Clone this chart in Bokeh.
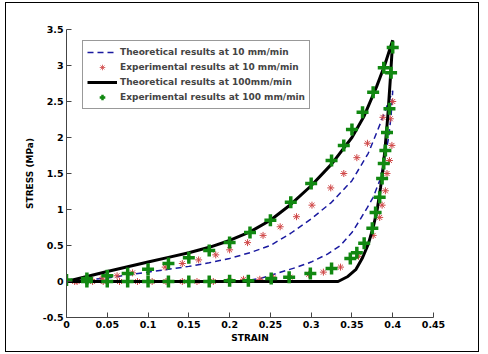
from bokeh.plotting import figure
from bokeh.models import FixedTicker, Legend, LegendItem, InlineStyleSheet
from bokeh.embed import file_html
from bokeh.resources import INLINE

# Theoretical results at 10 mm/min (loading then unloading)
theo10_x = [0, 0.025, 0.05, 0.075, 0.1, 0.125, 0.15, 0.175, 0.2, 0.225, 0.25, 0.275, 0.3, 0.325, 0.35,
            0.37, 0.385, 0.4,
            0.398, 0.395, 0.39, 0.384, 0.376, 0.369, 0.36, 0.35, 0.336, 0.32, 0.3, 0.28, 0.26, 0.24,
            0.22, 0.2, 0.1, 0]
theo10_y = [0, 0.02, 0.05, 0.09, 0.13, 0.17, 0.21, 0.26, 0.32, 0.4, 0.5, 0.67, 0.87, 1.1, 1.4,
            1.78, 2.2, 2.65,
            2.3, 2.0, 1.7, 1.4, 1.17, 1.03, 0.86, 0.68, 0.5, 0.38, 0.27, 0.19, 0.12, 0.05,
            0.01, 0, 0, 0]

# Experimental results at 10 mm/min
exp10_x = [0.01, 0.03, 0.044, 0.062, 0.081, 0.121, 0.142, 0.162, 0.183, 0.2, 0.222, 0.241, 0.262, 0.282,
           0.301, 0.324, 0.34, 0.356, 0.369, 0.388, 0.4,
           0.397, 0.399, 0.396, 0.393, 0.391, 0.387, 0.384, 0.376, 0.358, 0.336, 0.315, 0.297, 0.274, 0.254,
           0.237, 0.217, 0.2, 0.18, 0.16, 0.142, 0.122, 0.105, 0.087, 0.065, 0.045, 0.032, 0.013]
exp10_y = [0.0, 0.03, 0.05, 0.08, 0.12, 0.2, 0.25, 0.3, 0.37, 0.44, 0.54, 0.64, 0.76, 0.9,
           1.06, 1.3, 1.5, 1.72, 1.92, 2.28, 2.5,
           2.26, 1.89, 1.68, 1.5, 1.26, 1.06, 0.89, 0.64, 0.35, 0.2, 0.13, 0.1, 0.06, 0.05,
           0.03, 0.03, 0.01, 0, 0, 0, 0, 0, 0, 0, 0, 0, 0]

# Theoretical results at 100 mm/min
theo100_x = [0, 0.025, 0.05, 0.075, 0.1, 0.125, 0.15, 0.175, 0.2, 0.225, 0.25, 0.275, 0.3, 0.325, 0.35,
             0.365, 0.38, 0.39, 0.4,
             0.397, 0.394, 0.391, 0.388, 0.385, 0.381, 0.376, 0.37, 0.363, 0.355, 0.345, 0.333, 0]
theo100_y = [0, 0.07, 0.14, 0.205, 0.27, 0.335, 0.40, 0.475, 0.57, 0.69, 0.85, 1.07, 1.33, 1.63, 2.0,
             2.3, 2.7, 3.0, 3.35,
             2.8, 2.3, 1.9, 1.55, 1.3, 1.0, 0.75, 0.52, 0.33, 0.17, 0.07, 0, 0]

# Experimental results at 100 mm/min
exp100_x = [0, 0.025, 0.05, 0.075, 0.1, 0.125, 0.15, 0.175, 0.2, 0.225, 0.25, 0.275, 0.3, 0.325, 0.34,
            0.35, 0.363, 0.376, 0.389, 0.4,
            0.398, 0.396, 0.393, 0.391, 0.389, 0.387, 0.384, 0.379, 0.375, 0.365, 0.356, 0.348, 0.325,
            0.299, 0.273, 0.251, 0.223, 0.2, 0.175, 0.15, 0.125, 0.1, 0.075, 0.05, 0.025]
exp100_y = [0.02, 0.04, 0.08, 0.11, 0.17, 0.25, 0.33, 0.43, 0.54, 0.68, 0.85, 1.1, 1.36, 1.68, 1.89,
            2.11, 2.35, 2.63, 2.97, 3.25,
            2.9, 2.4, 2.07, 1.82, 1.64, 1.43, 1.17, 0.96, 0.74, 0.53, 0.40, 0.32, 0.18,
            0.11, 0.06, 0.04, 0.01, 0.01, 0, 0, 0, 0, 0, 0, 0]

x_ticks = [0, 0.05, 0.1, 0.15, 0.2, 0.25, 0.3, 0.35, 0.4, 0.45]
x_labels = ["0", "0.05", "0.1", "0.15", "0.2", "0.25", "0.3", "0.35", "0.4", "0.45"]
y_ticks = [-0.5, 0, 0.5, 1, 1.5, 2, 2.5, 3, 3.5]
y_labels = ["-0.5", "0", "0.5", "1", "1.5", "2", "2.5", "3", "3.5"]

FONT = "DejaVu Sans"
RED = "#d04848"
GREEN = "#118811"
NAN = float("nan")

p = figure(width=488, height=354, x_range=(0, 0.45), y_range=(-0.5, 3.5),
           output_backend="svg", toolbar_location=None,
           min_border_left=66, min_border_right=55, min_border_top=29, min_border_bottom=37)
p.outline_line_color = None
p.xgrid.visible = False
p.ygrid.visible = False
p.background_fill_color = "white"
p.border_fill_color = "white"

for ax, ticks, labels in ((p.xaxis[0], x_ticks, x_labels), (p.yaxis[0], y_ticks, y_labels)):
    ax.ticker = FixedTicker(ticks=ticks)
    ax.major_label_overrides = {t: l for t, l in zip(ticks, labels)}
    ax.major_tick_in = 5
    ax.major_tick_out = 0
    ax.minor_tick_in = 0
    ax.minor_tick_out = 0
    ax.axis_line_color = "#444444"
    ax.major_tick_line_color = "#444444"
    ax.major_label_text_font = FONT
    ax.major_label_text_font_style = "bold"
    ax.major_label_text_font_size = "9.5px"
    ax.major_label_text_color = "black"
    ax.axis_label_text_font = FONT
    ax.axis_label_text_font_style = "bold"
    ax.axis_label_text_font_size = "9px"
    ax.axis_label_text_color = "black"

p.xaxis.axis_label = "STRAIN"
p.yaxis.axis_label = "STRESS (MPa)"
p.xaxis.major_label_standoff = 3
p.yaxis.major_label_standoff = 3
p.xaxis.axis_label_standoff = 2
p.yaxis.axis_label_standoff = 5

r1 = p.line(theo10_x, theo10_y, line_color="#1a1aa0", line_width=1.5, line_dash="6 4")
r2 = p.scatter(exp10_x, exp10_y, marker="asterisk", size=7, line_color=RED, line_width=1)
r3 = p.line(theo100_x, theo100_y, line_color="black", line_width=3)
r4 = p.scatter(exp100_x, exp100_y, marker="cross", size=12, line_color=GREEN, line_width=3.5)

# legend-only glyphs (a single NaN point, never drawn in the plot)
l2 = p.scatter([NAN], [NAN], marker="asterisk", line_color=RED, line_width=0.8)
l4 = p.scatter([NAN], [NAN], marker="cross", line_color=GREEN, line_width=2.5)

legend = Legend(items=[
    LegendItem(label="Theoretical results at 10 mm/min", renderers=[r1]),
    LegendItem(label="Experimental results at 10 mm/min", renderers=[l2]),
    LegendItem(label="Theoretical results at 100mm/min", renderers=[r3]),
    LegendItem(label="Experimental results at 100 mm/min", renderers=[l4]),
], location=(16, 208))
legend.label_text_font = FONT
legend.label_text_font_style = "bold"
legend.label_text_font_size = "9px"
legend.glyph_width = 30
legend.glyph_height = 14
legend.label_height = 13
legend.spacing = 1
legend.padding = 4
legend.margin = 0
legend.label_standoff = 3
legend.border_line_color = "#333333"
legend.border_line_width = 1
legend.background_fill_alpha = 1
p.add_layout(legend, "center")

p.stylesheets = [InlineStyleSheet(css="""
:host::after {
  content: '';
  position: absolute;
  left: 5px; top: 2px; width: 474px; height: 350px;
  border: 1.5px solid black;
  box-sizing: border-box;
  pointer-events: none;
}
""")]

open("out.html", "w").write(file_html(p, INLINE))
